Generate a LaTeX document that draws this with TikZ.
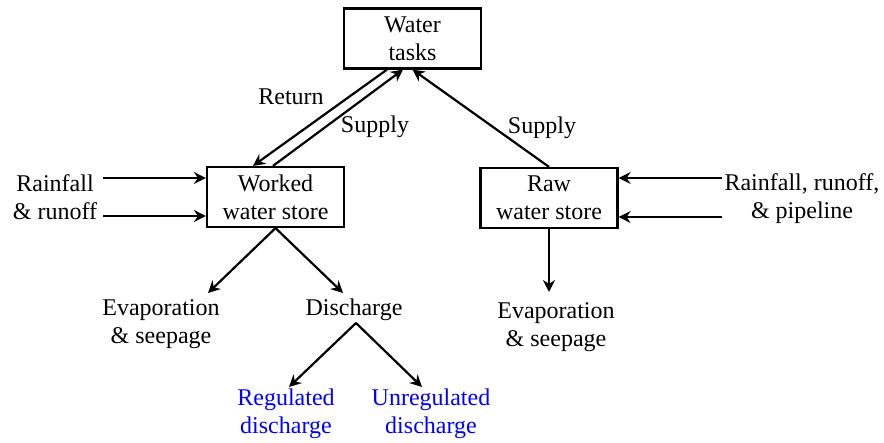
\documentclass[tikz,border=0pt]{standalone}
\usepackage{fontspec}
\setmainfont{Liberation Serif}
\usetikzlibrary{arrows.meta}

\begin{document}
\begin{tikzpicture}[x=0.5pt,y=-0.5pt,
   font=\fontsize{12}{14}\selectfont,
   box/.style={draw,line width=1.1pt,minimum width=68.5pt,minimum height=30pt,align=center,inner sep=0pt},
   lbl/.style={align=center,inner sep=0pt},
   flow/.style={line width=1.1pt,-{Stealth[length=6pt,width=6pt,inset=2pt]}}]
   \useasboundingbox (0,0) rectangle (884,443);
   % boxes
   \node[box] (tasks) at (412.5,38.5) {Water\\tasks};
   \node[box] (worked) at (275.5,197) {Worked\\water store};
   \node[box] (raw) at (549,198) {Raw\\water store};
   % texts
   \node[lbl] (wrain) at (55,197) {Rainfall\\\& runoff};
   \node[lbl] (rrain) at (802,199) {Rainfall, runoff,\\\& pipeline};
   \node[lbl] (wevap) at (161,324) {Evaporation\\\& seepage};
   \node[lbl] (disch) at (354,310) {Discharge};
   \node[lbl] (revap) at (556,327) {Evaporation\\\& seepage};
   \node[lbl,blue] (reg) at (286,414) {Regulated\\discharge};
   \node[lbl,blue] (unreg) at (431,414) {Unregulated\\discharge};
   \node[lbl] (ret) at (291,97) {Return};
   \node[lbl] (wsup) at (375,127) {Supply};
   \node[lbl] (rsup) at (542,128) {Supply};
   % free ends
   \coordinate (wr1) at (103,178);
   \coordinate (wr2) at (103,216);
   \coordinate (rr1) at (722,178);
   \coordinate (rr2) at (722,217);
   \coordinate (we) at (208,293);
   \coordinate (wd) at (343,293);
   \coordinate (ds) at (356,323);
   \coordinate (dr) at (289,387);
   \coordinate (du) at (422,387);
   \coordinate (re) at (549,292);
   % arrows
   \draw[flow] ([xshift=-12.75pt]tasks.south) -- ([xshift=-11.25pt]worked.north);
   \draw[flow] ([xshift=-1.25pt]worked.north) -- ([xshift=-4.75pt]tasks.south);
   \draw[flow] (raw.north) -- (tasks.south);
   \draw[flow] (wr1) -- (wr1 -| worked.west);
   \draw[flow] (wr2) -- (wr2 -| worked.west);
   \draw[flow] (rr1) -- (rr1 -| raw.east);
   \draw[flow] (rr2) -- (rr2 -| raw.east);
   \draw[flow] (worked.south) -- (we);
   \draw[flow] (worked.south) -- (wd);
   \draw[flow] (ds) -- (dr);
   \draw[flow] (ds) -- (du);
   \draw[flow] (raw.south) -- (re);
\end{tikzpicture}
\end{document}
